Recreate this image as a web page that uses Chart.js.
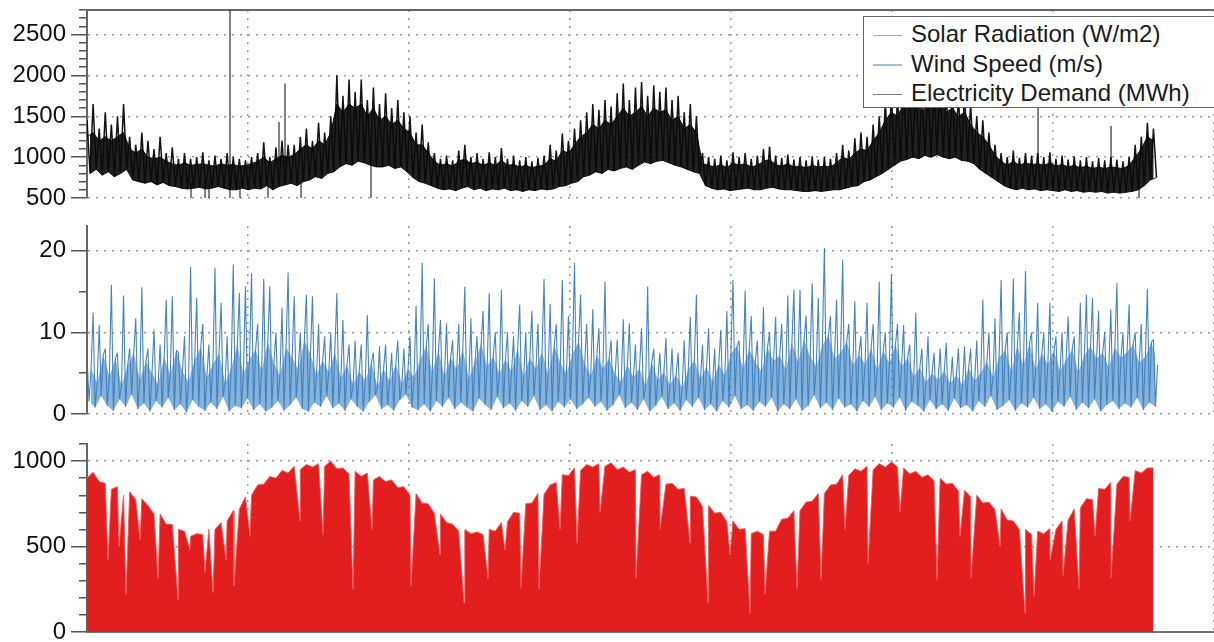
<!DOCTYPE html>
<html>
<head>
<meta charset="utf-8">
<title>Solar, wind and demand</title>
<script src="https://cdn.jsdelivr.net/npm/chart.js@4.4.1/dist/chart.umd.min.js"></script>
<style>
  html, body { margin: 0; padding: 0; background: #fff; overflow: hidden; }
  #wrap { position: relative; width: 1214px; height: 642px; overflow: hidden; }
  canvas { position: absolute; left: 0; }
  #legend {
    position: absolute; left: 863px; top: 16px; width: 370px; height: 92px;
    border: 1.5px solid #666; background: #fff; box-sizing: border-box;
    font-family: "Liberation Sans", Arial, sans-serif; font-size: 24px; color: #1a1a1a;
    padding-top: 2px; z-index: 5;
  }
  #legend .item { height: 29.5px; line-height: 29.5px; white-space: nowrap; }
  #legend .swatch {
    display: inline-block; width: 29px; height: 1.5px; margin: 0 9px 0 9px;
    vertical-align: middle;
  }
</style>
</head>
<body>
<div id="wrap">
  <canvas id="demandChart" width="1214" height="216" style="top:0px"></canvas>
  <canvas id="windChart" width="1214" height="216" style="top:216px"></canvas>
  <canvas id="solarChart" width="1214" height="210" style="top:432px"></canvas>
  <div id="legend">
    <div class="item"><span class="swatch" style="background:#f08c8c"></span>Solar Radiation (W/m2)</div>
    <div class="item"><span class="swatch" style="background:#9cc3e6"></span>Wind Speed (m/s)</div>
    <div class="item"><span class="swatch" style="background:#7a7a7a"></span>Electricity Demand (MWh)</div>
  </div>
</div>

<script>
// One sample every 150 hours: highest / lowest value in that stretch
const HOURS_PER_SAMPLE = 150;
const X_MAX = 27740;
const X_GRID_STEP = 4000;

// Electricity demand (MWh)
const demandPeak = [
  1450, 1650, 1350, 1550, 1400, 1500, 1650, 1250, 1150, 1300,
  1200, 1100, 1250, 1050, 1120, 980, 1050, 980, 1000, 1060,
  960, 1020, 980, 1050, 1000, 980, 960, 1000, 1050, 1180,
  1000, 1120, 1200, 1150, 1150, 1250, 1350, 1200, 1420, 1300,
  1500, 2000, 1750, 1950, 1800, 1950, 1700, 1850, 1650, 1780,
  1600, 1700, 1550, 1500, 1300, 1400, 1180, 1050, 980, 1020,
  960, 1080, 1150, 1000, 1050, 980, 1060, 1000, 1110, 980,
  1020, 960, 1000, 950, 990, 1020, 1150, 1080, 1290, 1200,
  1350, 1450, 1550, 1650, 1580, 1700, 1620, 1780, 1900, 1700,
  1850, 1920, 1750, 1880, 1800, 1850, 1700, 1750, 1550, 1650,
  1500, 1050, 1000, 980, 1020, 960, 1060, 1000, 1050, 980,
  1020, 1100, 1130, 1020, 990, 1030, 970, 1000, 960, 1010,
  970, 1000, 980, 1050, 1150, 1080, 1230, 1300, 1250, 1400,
  1500, 1700, 1800, 1750, 1900, 1850, 1950, 1800, 1900, 1850,
  1950, 1800, 1850, 1750, 1800, 1650, 1500, 1450, 1300, 1150,
  1050, 1000, 1080, 990, 1050, 1020, 1050, 1000, 1060, 980,
  1020, 970, 1010, 960, 1000, 950, 990, 960, 1000, 970,
  950, 1000, 1150, 1250, 1420, 1350
];
// top of the dense part of the band
const demandCore = [
  1250, 1300, 1200, 1250, 1200, 1250, 1300,
  1100, 1050, 1100, 1000, 980, 1000, 950,
  920, 900, 930, 900, 910, 920, 900, 890, 920, 900, 910, 890, 900,
  920, 950, 1000, 930, 980, 1020, 1000, 1030,
  1100, 1150, 1100, 1200, 1150, 1300,
  1650, 1550, 1650, 1600, 1650, 1500, 1600, 1450, 1500, 1400, 1450, 1350,
  1300, 1150, 1150, 1050, 950,
  900, 920, 890, 950, 980, 920, 940, 900, 930, 900, 960, 900, 910, 880, 900, 870, 890, 900,
  980, 950, 1080, 1050, 1150,
  1250, 1300, 1400, 1350, 1450, 1400, 1500, 1600, 1500, 1550,
  1620, 1500, 1600, 1550, 1580, 1450, 1500, 1350, 1400, 1300,
  920, 900, 880, 910, 870, 930, 900, 920, 880, 900, 950,
  970, 910, 890, 920, 880, 890, 870, 900, 880, 890, 880,
  930, 1000, 970, 1050, 1100, 1080, 1200, 1300,
  1450, 1550, 1500, 1650, 1600, 1700, 1550, 1650, 1600, 1700, 1550, 1600, 1500, 1550, 1400,
  1300, 1250, 1150, 1020, 950, 900,
  950, 900, 930, 910, 920, 900, 930, 890, 910, 880,
  900, 870, 890, 860, 880, 860, 880, 870, 860, 900,
  1000, 1100, 1250, 1200
];
const demandBase = [
  800, 850, 780, 820, 760, 800, 850, 720, 700, 680,
  700, 660, 690, 650, 640, 620, 610, 620, 630, 610,
  620, 640, 620, 600, 600, 620, 600, 620, 610, 650,
  600, 640, 660, 680, 650, 700, 720, 760, 740, 800,
  820, 880, 920, 900, 950, 930, 900, 880, 880, 900,
  860, 880, 820, 750, 700, 680, 650, 620, 600, 610,
  590, 620, 640, 600, 620, 590, 610, 600, 620, 590,
  600, 580, 600, 590, 610, 600, 610, 640, 650, 680,
  700, 760, 780, 820, 800, 850, 830, 860, 880, 850,
  900, 940, 920, 950, 960, 930, 900, 880, 850, 820,
  800, 650, 620, 600, 610, 590, 600, 610, 620, 600,
  600, 620, 630, 610, 600, 600, 590, 580, 580, 590,
  580, 590, 600, 600, 620, 640, 650, 700, 720, 760,
  800, 850, 900, 950, 970, 1000, 980, 1020, 1000, 1030,
  1000, 980, 1000, 960, 950, 920, 850, 800, 750, 700,
  650, 620, 600, 620, 600, 610, 590, 600, 590, 580,
  600, 580, 590, 570, 580, 570, 580, 560, 570, 560,
  570, 580, 600, 650, 720, 750
];
// single-hour outliers: hour, from, to
const demandSpikeHour = [3520, 4726, 4874, 23409, 25206, 2560, 2905, 3003, 3766, 4455, 5268, 6991, 25895];
const demandSpikeFrom = [500, 900, 900, 950, 950, 500, 500, 500, 500, 500, 500, 500, 500];
const demandSpikeTo = [2810, 1430, 1900, 1650, 1380, 700, 700, 700, 700, 650, 700, 1000, 700];

// Wind speed (m/s)
const windPeak = [
  7, 12.4, 10.9, 8, 15.8, 7.5, 14.5, 8, 11.7, 15.5,
  8, 10.3, 8.5, 14, 14.4, 7.5, 9.5, 18, 14.2, 11,
  8.5, 17.9, 13.6, 9.5, 18.3, 14.8, 15.6, 17.2, 11, 16.5,
  15.6, 10, 13, 17.3, 14.4, 10, 14.6, 14.4, 11, 9.5,
  10, 14.8, 11.5, 8.5, 9, 8.5, 12.1, 7.5, 8.3, 8.5,
  7.5, 9, 8, 9.5, 13.2, 18.5, 11, 16.6, 11.5, 11.1,
  9, 11, 15.6, 11.7, 9.5, 12.6, 14.8, 10, 15.2, 10,
  9.5, 13.4, 10, 12.6, 11, 16.5, 13.5, 11, 16.4, 12,
  18.5, 14.6, 11, 12.8, 10.5, 16.2, 9, 9.1, 11.6, 11.1,
  8.5, 10.5, 15.6, 8, 7.5, 9.3, 8, 7.5, 9, 11.9,
  14.6, 8.5, 10.5, 8, 10.3, 12.6, 16.4, 9, 15.1, 12,
  9, 13.1, 10, 11.9, 11, 14.5, 15.2, 15.2, 12, 16,
  14.2, 20.3, 12, 14, 18.9, 11, 13.8, 9.5, 13.6, 11,
  16.2, 10, 17.1, 11, 10.9, 8.5, 12.4, 8, 9.5, 7.5,
  8, 8.7, 7, 8, 8.3, 8, 9, 14, 10, 11.7,
  16.4, 10, 16.6, 12.4, 17.5, 10, 13.6, 10, 13.6, 9.5,
  10, 11.9, 9.5, 13.6, 14.6, 14.2, 12.6, 10, 12.8, 16,
  10, 13.4, 10, 11, 15.3, 9.1
];
const windBase = [
  1.5, 0.8, 2.2, 1.0, 0.4, 1.8, 0.9, 2.4, 0.6, 1.3,
  0.3, 1.6, 0.8, 2.0, 0.5, 1.2, 0.2, 1.7, 0.9, 0.4,
  1.4, 0.6, 2.1, 0.3, 1.0, 0.7, 1.9, 0.5, 1.2, 0.3,
  0.8, 1.6, 0.4, 1.1, 2.0, 0.6, 0.3, 1.4, 0.9, 2.2,
  0.7, 1.3, 0.4, 1.8, 0.9, 0.3, 1.5, 2.3, 0.6, 1.1,
  0.4, 1.7, 2.4, 0.8, 0.5, 1.2, 0.3, 1.6, 0.9, 2.0,
  0.6, 1.4, 0.8, 0.3, 1.9, 1.1, 0.5, 2.1, 0.7, 1.3,
  0.4, 1.6, 0.9, 2.2, 0.5, 1.1, 0.3, 1.5, 0.8, 1.8,
  0.6, 1.2, 2.0, 0.9, 1.5, 0.4, 1.1, 2.3, 0.7, 1.4,
  0.5, 1.8, 0.3, 1.0, 2.1, 0.6, 1.3, 0.4, 1.7, 0.9,
  2.0, 0.5, 1.2, 0.3, 1.6, 0.8, 2.2, 0.6, 1.1, 0.4,
  1.5, 0.9, 2.0, 0.3, 1.2, 0.6, 1.8, 0.4, 1.0, 2.3,
  0.7, 1.4, 0.5, 1.9, 0.8, 1.2, 0.3, 1.6, 0.9, 2.1,
  0.5, 1.3, 0.8, 2.0, 0.4, 1.5, 1.0, 0.3, 1.7, 0.6,
  1.2, 0.4, 1.9, 0.7, 1.1, 0.3, 1.6, 0.9, 2.2, 0.5,
  1.0, 1.7, 0.4, 1.3, 0.8, 2.0, 0.6, 1.2, 0.3, 1.5,
  0.9, 2.1, 0.5, 1.4, 0.7, 1.8, 0.3, 1.1, 1.6, 0.6,
  1.3, 0.8, 2.0, 0.5, 1.4, 0.9
];
// typical level of the dense band
const windMid = [
  5.5, 3.8, 7.2, 4.6, 6.8, 3.5, 5.9, 7.5, 4.2, 6.4,
  5.0, 3.6, 6.9, 4.8, 7.8, 5.2, 3.9, 6.6, 8.2, 4.5,
  6.1, 7.4, 3.8, 5.6, 8.4, 4.9, 6.7, 7.9, 5.3, 8.8,
  6.2, 4.7, 8.1, 6.9, 5.4, 9.0, 7.3, 4.8, 6.5, 5.1,
  7.6, 4.4, 6.0, 3.6, 5.2, 4.1, 6.3, 3.3, 5.5, 4.0,
  6.1, 3.7, 5.4, 4.5, 6.6, 8.3, 5.1, 7.7, 4.6, 6.9,
  5.5, 7.9, 4.3, 6.4, 8.6, 5.8, 7.1, 4.9, 6.7, 5.2,
  8.0, 4.6, 6.9, 5.5, 7.6, 4.8, 8.4, 6.2, 5.0, 7.3,
  8.9, 6.1, 4.7, 7.2, 5.6, 6.8, 4.9, 3.9, 6.0, 4.5,
  5.6, 3.4, 6.3, 4.2, 5.1, 3.6, 4.8, 3.2, 5.4, 6.6,
  4.3, 5.8, 3.9, 6.1, 4.7, 7.4, 8.3, 5.6, 7.9, 6.4,
  5.2, 8.1, 6.5, 7.2, 5.4, 8.7, 6.3, 9.1, 7.0, 5.8,
  8.4, 9.6, 6.8, 7.5, 8.9, 5.9, 7.3, 6.1, 8.0, 5.4,
  7.7, 6.2, 8.5, 5.8, 6.9, 4.6, 5.7, 3.9, 5.0, 4.2,
  5.3, 3.7, 4.8, 3.5, 5.6, 4.1, 5.0, 6.4, 4.5, 6.9,
  7.8, 5.2, 8.3, 6.0, 8.6, 5.4, 7.4, 6.1, 7.7, 5.3,
  6.6, 7.9, 5.1, 7.2, 8.3, 6.8, 7.5, 5.7, 8.1, 6.9,
  7.6, 8.5, 6.3, 7.0, 8.8, 6.0
];

// Solar radiation (W/m2): seasonal daily-peak envelope
const solarPeak = [
  900, 935, 880, 870, 835, 850, 800, 820, 775, 780,
  740, 690, 690, 630, 630, 600, 590, 560, 575, 570,
  600, 600, 640, 650, 710, 720, 790, 800, 860, 865,
  910, 900, 945, 930, 970, 950, 980, 965, 985, 970,
  1000, 955, 960, 925, 940, 910, 930, 890, 910, 880,
  890, 845, 850, 800, 810, 755, 750, 695, 690, 640,
  630, 590, 600, 575, 585, 570, 600, 590, 640, 645,
  700, 695, 750, 755, 810, 805, 860, 875, 920, 915,
  960, 945, 980, 965, 985, 970, 990, 950, 965, 935,
  950, 920, 940, 905, 920, 865, 870, 835, 840, 795,
  790, 735, 740, 695, 700, 645, 650, 600, 605, 575,
  590, 570, 590, 590, 660, 665, 710, 710, 760, 765,
  810, 810, 860, 865, 920, 915, 955, 940, 970, 950,
  985, 965, 995, 965, 960, 925, 940, 905, 920, 885,
  900, 865, 870, 825, 830, 790, 800, 755, 760, 715,
  720, 655, 650, 600, 600, 570, 590, 575, 605, 600,
  650, 655, 720, 725, 780, 775, 840, 835, 875, 865,
  910, 905, 945, 930, 960, 960
];
// overcast days: hour and that day's peak
const solarDipHour = [
  517, 788, 960, 1305, 1748, 2240, 2535, 2905, 3102, 3422,
  3618, 4012, 5243, 5809, 6548, 7015, 7975, 8689, 9280, 9871,
  10289, 10683, 11126, 11643, 12062, 12628, 13514, 14105, 14843, 15286,
  15828, 16320, 16689, 17477, 18068, 18658, 19225, 20012, 20923, 21489,
  21760, 22474, 23089, 23311, 23705, 24025, 24418, 24812, 25206, 25674
];
const solarDipValue = [
  420, 500, 220, 540, 310, 190, 480, 350, 230, 420,
  270, 560, 650, 570, 250, 600, 270, 450, 170, 310,
  480, 260, 250, 600, 520, 700, 316, 600, 520, 170,
  450, 110, 220, 250, 306, 600, 400, 700, 306, 560,
  316, 500, 110, 210, 420, 330, 250, 560, 316, 650
];

const FONT = '"Liberation Sans", Arial, sans-serif';
const GRID = '#9a9a9a';
const CLEAR = 'rgba(0,0,0,0)';

// spread the given per-sample series evenly inside each 150 h sample
function interleave(...series) {
  const pts = [];
  const step = HOURS_PER_SAMPLE / series.length;
  series[0].forEach((_, i) => {
    series.forEach((arr, k) => pts.push({ x: i * HOURS_PER_SAMPLE + k * step, y: arr[i] }));
  });
  return pts;
}

function atOffset(values, offset) {
  return values.map((v, i) => ({ x: i * HOURS_PER_SAMPLE + offset, y: v }));
}

function spikeSegments(hours, from, to) {
  const pts = [];
  hours.forEach((h, k) => {
    pts.push({ x: h, y: from[k] }, { x: h, y: to[k] }, { x: h, y: null });
  });
  return pts;
}

const solarPoints = atOffset(solarPeak, 0)
  .concat(solarDipHour.map((h, k) => ({ x: h, y: solarDipValue[k] })))
  .sort((a, b) => a.x - b.x);

function yAxis(min, max, step, majorEvery) {
  return {
    type: 'linear',
    min: min,
    max: max,
    afterFit: function(scale) {
      scale.width = 87;
      scale.paddingTop = 0;
      scale.paddingBottom = 0;
    },
    ticks: {
      stepSize: step,
      includeBounds: false,
      autoSkip: false,
      padding: 5,
      color: '#111',
      font: { family: FONT, size: 24 },
      callback: value => (value % majorEvery === 0 ? value : '')
    },
    grid: {
      color: ctx => (ctx.tick && ctx.tick.value % majorEvery === 0 ? GRID : CLEAR),
      lineWidth: 1.5,
      tickLength: 16,
      tickColor: '#555',
      tickWidth: 1.5,
      // minor ticks: only the inner 8px of the tick is drawn
      tickBorderDash: ctx => (ctx.tick && ctx.tick.value % majorEvery === 0 ? [] : [0, 8, 8, 0])
    },
    border: { display: true, color: '#666', width: 2, dash: [2, 6] }
  };
}

function xAxis(showBorder) {
  return {
    type: 'linear',
    min: 0,
    max: X_MAX,
    afterFit: function(scale) {
      scale.height = 0;
      scale.paddingLeft = 0;
      scale.paddingRight = 0;
    },
    ticks: { display: false, stepSize: X_GRID_STEP, includeBounds: false },
    grid: {
      color: ctx => (ctx.tick && ctx.tick.value === 0 ? CLEAR : GRID),
      lineWidth: 1.5,
      drawTicks: false
    },
    border: { display: showBorder, color: '#777', width: 2, dash: [2, 6] }
  };
}

function makePanel(canvasId, datasets, scales, padding) {
  const ctx = document.getElementById(canvasId).getContext('2d');
  return new Chart(ctx, {
    type: 'line',
    data: { datasets: datasets },
    options: {
      responsive: false,
      animation: false,
      events: [],
      layout: { padding: padding },
      elements: { point: { radius: 0 }, line: { tension: 0, borderJoinStyle: 'bevel' } },
      plugins: { legend: { display: false }, tooltip: { enabled: false } },
      scales: scales
    }
  });
}

makePanel('demandChart', [
  {
    label: 'Demand core',
    data: atOffset(demandCore, 0),
    borderColor: 'rgba(0,0,0,0.85)',
    borderWidth: 1,
    fill: false
  },
  {
    label: 'Demand low',
    data: atOffset(demandBase, HOURS_PER_SAMPLE / 2),
    borderColor: 'rgba(0,0,0,0.85)',
    backgroundColor: 'rgba(8,8,8,0.9)',
    borderWidth: 1,
    fill: '-1'
  },
  {
    label: 'Electricity Demand (MWh)',
    data: interleave(demandPeak, demandBase),
    borderColor: 'rgba(0,0,0,0.92)',
    borderWidth: 1.5,
    fill: false
  },
  {
    label: 'Demand outliers',
    data: spikeSegments(demandSpikeHour, demandSpikeFrom, demandSpikeTo),
    borderColor: 'rgba(30,30,30,0.85)',
    borderWidth: 1.3,
    spanGaps: false,
    fill: false
  }
], {
  x: xAxis(false),
  xTop: {
    type: 'linear', position: 'top', min: 0, max: 1,
    afterFit: function(scale) { scale.height = 0; },
    ticks: { display: false },
    grid: { display: false, drawTicks: false },
    border: { display: true, color: '#666', width: 2 }
  },
  y: yAxis(500, 2800, 100, 500)
}, { top: 10, bottom: 18, left: 0, right: 0 });

makePanel('windChart', [
  {
    label: 'Wind core',
    data: atOffset(windMid, HOURS_PER_SAMPLE * 2 / 3),
    borderColor: CLEAR,
    borderWidth: 0,
    fill: false
  },
  {
    label: 'Wind low',
    data: atOffset(windBase, HOURS_PER_SAMPLE / 3),
    borderColor: CLEAR,
    backgroundColor: 'rgba(62,130,196,0.62)',
    borderWidth: 0,
    fill: '-1'
  },
  {
    label: 'Wind Speed (m/s)',
    data: interleave(windPeak, windBase, windMid),
    borderColor: 'rgba(38,110,180,0.85)',
    borderWidth: 1.1,
    fill: false
  }
], {
  x: xAxis(false),
  y: yAxis(0, 23, 5, 10)
}, { top: 10, bottom: 18, left: 0, right: 0 });

makePanel('solarChart', [{
  label: 'Solar Radiation (W/m2)',
  data: solarPoints,
  borderColor: 'rgba(236,90,90,0.9)',
  backgroundColor: 'rgb(226,30,30)',
  borderWidth: 1,
  fill: 'origin'
}], {
  x: xAxis(true),
  y: yAxis(0, 1100, 100, 500)
}, { top: 12, bottom: 10, left: 0, right: 0 });
</script>
</body>
</html>
